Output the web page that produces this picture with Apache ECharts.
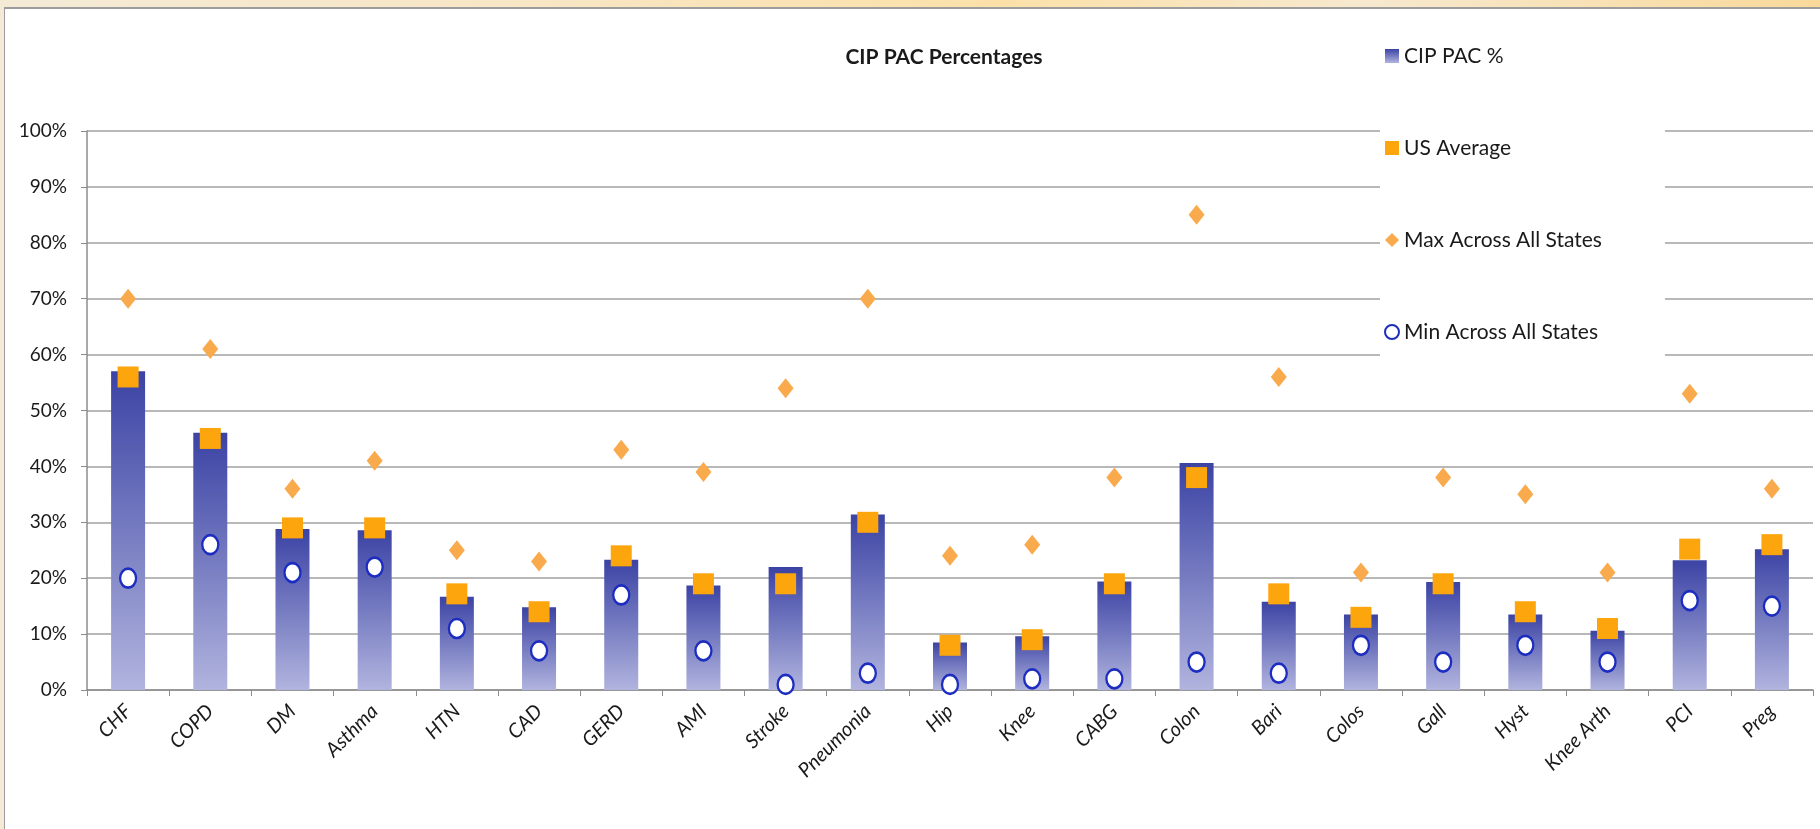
<!DOCTYPE html>
<html>
<head>
<meta charset="utf-8">
<script src="https://cdn.jsdelivr.net/npm/echarts@6/dist/echarts.min.js"></script>
<style>
  html, body { margin: 0; padding: 0; width: 1820px; height: 829px; overflow: hidden; }
  body {
    background: linear-gradient(90deg, #f4ead6 0%, #f8e6c4 30%, #fbe0a8 55%, #f7e9cf 75%, #f9d99a 100%);
  }
  #cip-pac {
    position: absolute;
    left: 4px;
    top: 7px;
    width: 1816px;
    height: 822px;
    background: #fff;
    border-left: 1px solid #9c9c9c;
    border-top: 2px solid #9c9c9c;
  }
</style>
</head>
<body>
<div id="cip-pac"></div>
<script>
const categories = ['CHF', 'COPD', 'DM', 'Asthma', 'HTN', 'CAD', 'GERD', 'AMI', 'Stroke', 'Pneumonia',
  'Hip', 'Knee', 'CABG', 'Colon', 'Bari', 'Colos', 'Gall', 'Hyst', 'Knee Arth', 'PCI', 'Preg']
const cipPac = [57, 46, 28.8, 28.6, 16.7, 14.8, 23.3, 18.7, 22, 31.4, 8.5, 9.6, 19.4, 40.6, 15.8, 13.5, 19.3, 13.5, 10.6, 23.2, 25.2]
const usAvg = [56, 45, 29, 29, 17.2, 14, 24, 19, 19, 30, 8, 9, 19, 38, 17.2, 13, 19, 14, 11, 25.2, 26]
const maxStates = [70, 61, 36, 41, 25, 23, 43, 39, 54, 70, 24, 26, 38, 85, 56, 21, 38, 35, 21, 53, 36]
const minStates = [20, 26, 21, 22, 11, 7, 17, 7, 1, 3, 1, 2, 2, 5, 3, 8, 5, 8, 5, 16, 15]

const myChart = echarts.init(document.getElementById('cip-pac'))

const barColor = new echarts.graphic.LinearGradient(0, 0, 0, 1, [
  { offset: 0, color: '#3b43a4' },
  { offset: 1, color: '#b1b4de' },
])

const option = {
  textStyle: { fontFamily: 'Lato' },
  title: {
    text: 'CIP PAC Percentages',
    left: 934,
    textAlign: 'center',
    top: 33,
    textStyle: { fontFamily: 'Lato', fontSize: 21, fontWeight: 'bold', color: '#1a1a1a' },
  },
  legend: {
    orient: 'vertical',
    left: 1375,
    top: 20,
    padding: [15, 63, 29, 4],
    backgroundColor: '#fff',
    itemGap: 68,
    itemWidth: 14,
    itemHeight: 14,
    textStyle: { fontFamily: 'Lato', fontSize: 21, lineHeight: 24, color: '#1a1a1a' },
    data: [
      { name: 'CIP PAC %', icon: 'rect' },
      { name: 'US Average', icon: 'rect' },
      { name: 'Max Across All States', icon: 'diamond' },
      { name: 'Min Across All States', icon: 'circle' },
    ],
  },
  grid: {
    left: 82,
    right: 8,
    top: 122,
    bottom: 141,
  },
  xAxis: {
    type: 'category',
    data: categories,
    axisLine: { lineStyle: { color: '#8c8c8c', width: 1.5 } },
    axisTick: { show: true, length: 6, lineStyle: { color: '#8c8c8c' } },
    axisLabel: {
      rotate: 45,
      margin: 18,
      fontFamily: 'Lato',
      fontStyle: 'italic',
      fontSize: 20,
      color: '#1a1a1a',
      interval: 0,
    },
  },
  yAxis: {
    type: 'value',
    min: 0,
    max: 100,
    interval: 10,
    axisLine: { show: true, lineStyle: { color: '#8c8c8c', width: 1.5 } },
    axisTick: { show: true, length: 6, lineStyle: { color: '#8c8c8c' } },
    splitLine: { lineStyle: { color: '#b8b8b8', width: 2 } },
    axisLabel: {
      formatter: '{value}%',
      margin: 20,
      fontFamily: 'Lato',
      fontSize: 19,
      color: '#1a1a1a',
    },
  },
  series: [
    {
      name: 'CIP PAC %',
      type: 'bar',
      data: cipPac,
      barWidth: 34,
      itemStyle: { color: barColor },
    },
    {
      name: 'US Average',
      type: 'scatter',
      data: usAvg,
      symbol: 'rect',
      symbolSize: 21,
      itemStyle: { color: '#fca50c', opacity: 1 },
    },
    {
      name: 'Max Across All States',
      type: 'scatter',
      data: maxStates,
      symbol: 'diamond',
      symbolSize: [16, 20],
      itemStyle: { color: '#f9aa4c', opacity: 1 },
    },
    {
      name: 'Min Across All States',
      type: 'scatter',
      data: minStates,
      symbol: 'circle',
      symbolSize: [16, 19],
      itemStyle: { color: '#ffffff', borderColor: '#1d2dbf', borderWidth: 2.5, opacity: 1 },
    },
  ],
}
myChart.setOption(option)
</script>
</body>
</html>
